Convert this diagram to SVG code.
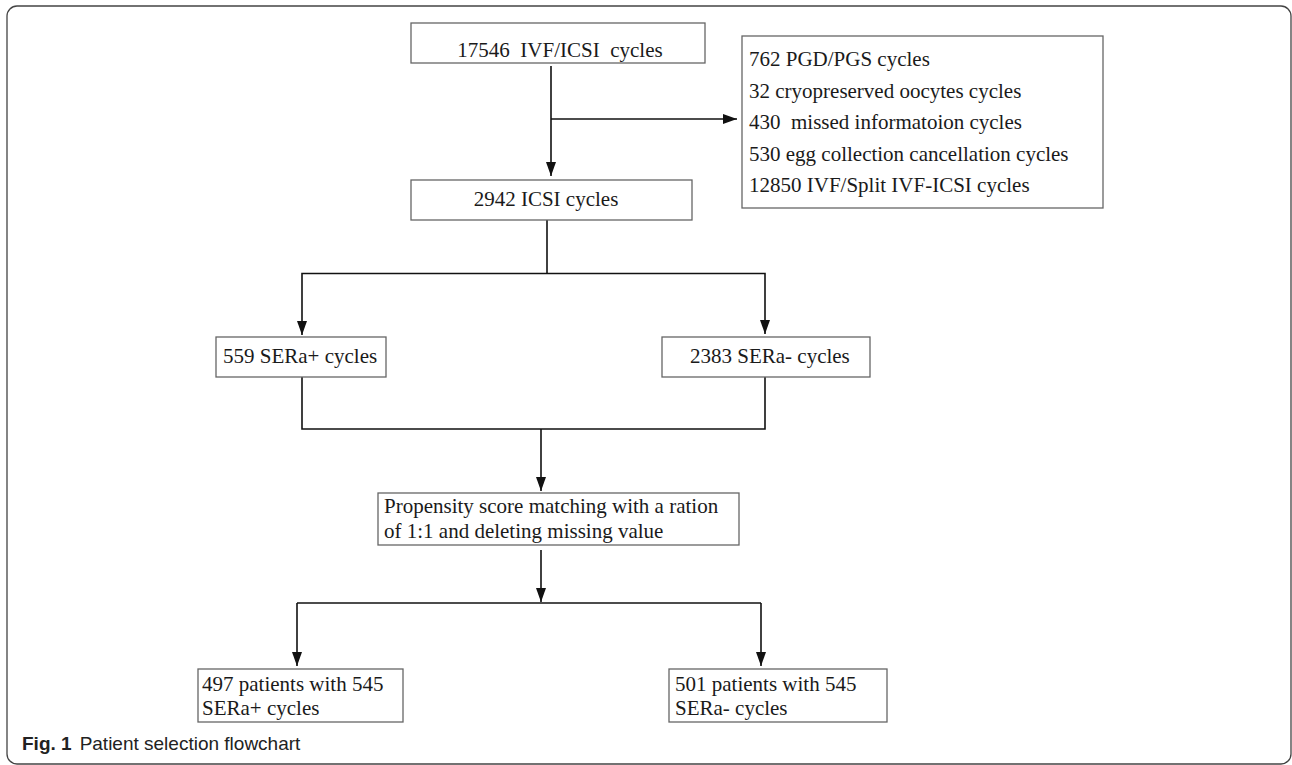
<svg xmlns="http://www.w3.org/2000/svg" width="1292" height="765" viewBox="0 0 1292 765">
<defs>
<marker id="arr" markerUnits="userSpaceOnUse" markerWidth="14" markerHeight="10" refX="14" refY="5" orient="auto">
<path d="M0,0 L14,5 L0,10 z" fill="#111"/>
</marker>
<style>
.box{fill:#fff;stroke:#666;stroke-width:1.3}
.t{font-family:"Liberation Serif","Times New Roman",serif;font-size:21px;fill:#1a1a1a;white-space:pre}
.c{fill:none;stroke:#111;stroke-width:1.6}
.cap{font-family:"Liberation Sans",Arial,sans-serif;font-size:19px;fill:#222}
</style>
</defs>
<rect x="7" y="6" width="1284" height="758" rx="10" fill="#fff" stroke="#444" stroke-width="1.3"/>
<g id="connectors">
<path class="c" d="M551,66 V176" marker-end="url(#arr)"/>
<path class="c" d="M551,119 H737" marker-end="url(#arr)"/>
<path class="c" d="M547,220 V273.5"/>
<path class="c" d="M547,273.5 H302 V335" marker-end="url(#arr)"/>
<path class="c" d="M547,273.5 H765 V334" marker-end="url(#arr)"/>
<path class="c" d="M302,377 V429 H765 V377"/>
<path class="c" d="M541,429 V491" marker-end="url(#arr)"/>
<path class="c" d="M541,550 V602" marker-end="url(#arr)"/>
<path class="c" d="M297,603 H761"/>
<path class="c" d="M297,603 V666" marker-end="url(#arr)"/>
<path class="c" d="M761,603 V666" marker-end="url(#arr)"/>
</g>
<g id="n-total">
<rect class="box" x="411" y="23" width="294" height="40"/>
<text class="t" x="560" y="57" text-anchor="middle" xml:space="preserve">17546  IVF/ICSI  cycles</text>
</g>
<g id="n-excluded">
<rect class="box" x="742" y="36" width="361" height="172"/>
<text class="t" x="749" y="66">762 PGD/PGS cycles</text>
<text class="t" x="749" y="97.5">32 cryopreserved oocytes cycles</text>
<text class="t" x="749" y="129" xml:space="preserve">430  missed informatoion cycles</text>
<text class="t" x="749" y="160.5">530 egg collection cancellation cycles</text>
<text class="t" x="749" y="192">12850 IVF/Split IVF-ICSI cycles</text>
</g>
<g id="n-icsi">
<rect class="box" x="411" y="180" width="281" height="40"/>
<text class="t" x="546" y="206" text-anchor="middle">2942 ICSI cycles</text>
</g>
<g id="n-sera-pos">
<rect class="box" x="216" y="337" width="170" height="40"/>
<text class="t" x="223" y="363">559 SERa+ cycles</text>
</g>
<g id="n-sera-neg">
<rect class="box" x="662" y="337" width="208" height="40"/>
<text class="t" x="690" y="363">2383 SERa- cycles</text>
</g>
<g id="n-psm">
<rect class="box" x="378" y="493" width="361" height="52"/>
<text class="t" x="384" y="513">Propensity score matching with a ration</text>
<text class="t" x="384" y="538">of 1:1 and deleting missing value</text>
</g>
<g id="n-matched-pos">
<rect class="box" x="198" y="669" width="205" height="53"/>
<text class="t" x="202" y="691">497 patients with 545</text>
<text class="t" x="202" y="715">SERa+ cycles</text>
</g>
<g id="n-matched-neg">
<rect class="box" x="669" y="669" width="218" height="53"/>
<text class="t" x="675" y="691">501 patients with 545</text>
<text class="t" x="675" y="715">SERa- cycles</text>
</g>
<g id="caption">
<text class="cap" x="22" y="750"><tspan font-weight="bold">Fig. 1</tspan><tspan dx="8">Patient selection flowchart</tspan></text>
</g>
</svg>
